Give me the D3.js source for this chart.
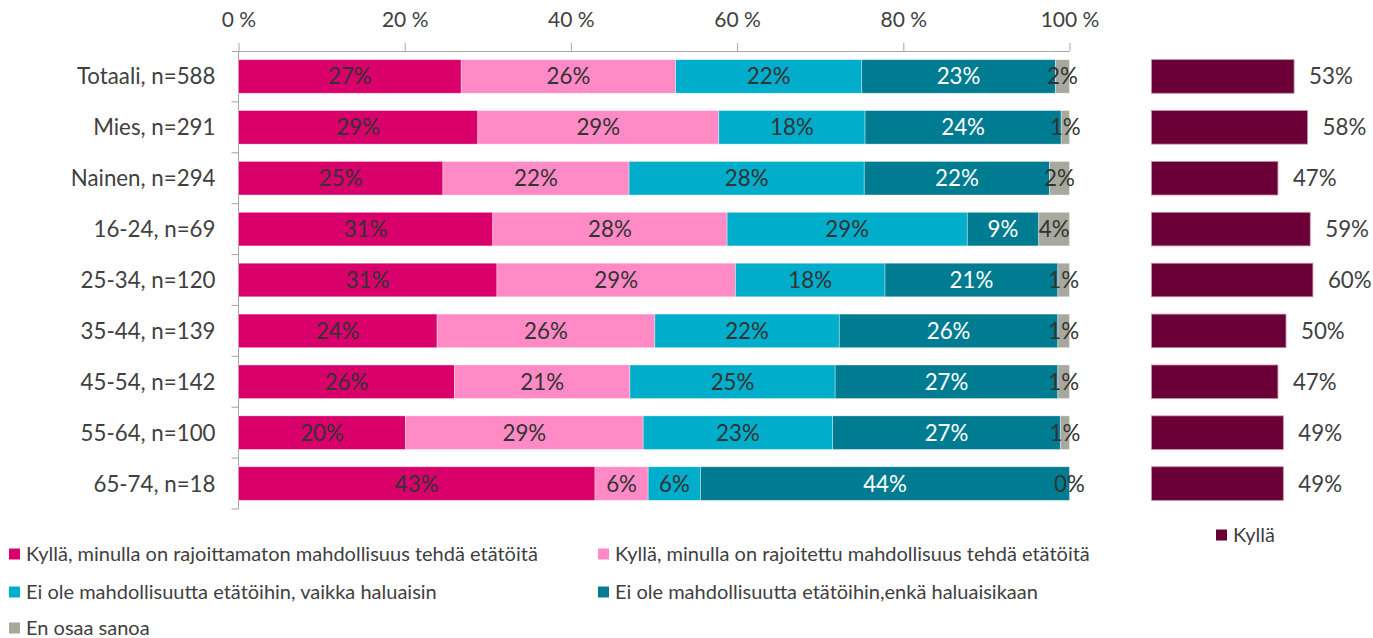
<!DOCTYPE html>
<html>
<head>
<meta charset="utf-8">
<script src="https://cdn.jsdelivr.net/npm/d3@7"></script>
<style>
  html, body { margin: 0; padding: 0; background: #fff; }
  svg { display: block; font-family: Lato, "Noto Sans", sans-serif; }
</style>
</head>
<body>
<svg id="chart" width="1373" height="638"></svg>
<script>
// Respondent groups
const groups = ["Totaali, n=588", "Mies, n=291", "Nainen, n=294", "16-24, n=69", "25-34, n=120",
                "35-44, n=139", "45-54, n=142", "55-64, n=100", "65-74, n=18"];

// Answer options (stack order)
const answers = [
  "Kyllä, minulla on rajoittamaton mahdollisuus tehdä etätöitä",
  "Kyllä, minulla on rajoitettu mahdollisuus tehdä etätöitä",
  "Ei ole mahdollisuutta etätöihin, vaikka haluaisin",
  "Ei ole mahdollisuutta etätöihin,enkä haluaisikaan",
  "En osaa sanoa"
];

// Shares (%) per answer option, one value per group
const unlimited  = [26.8, 28.8, 24.6, 30.6, 31.1, 23.9, 26.0, 20.1, 42.9];
const limited    = [25.8, 29.0, 22.4, 28.2, 28.7, 26.2, 21.1, 28.6, 6.4];
const wantsNot   = [22.4, 17.6, 28.3, 28.9, 18.0, 22.2, 24.7, 22.8, 6.3];
const noWish     = [23.3, 23.6, 22.3, 8.6, 20.8, 26.3, 26.8, 27.4, 44.4];
const dontKnow   = [1.7, 1.0, 2.4, 3.7, 1.4, 1.4, 1.4, 1.1, 0.0];

// "Kyllä" total (%) per group
const yesTotal = [53, 58, 47, 59, 60, 50, 47, 49, 49];

// Axis ticks (%)
const xTicks = [0, 20, 40, 60, 80, 100];

const series = [unlimited, limited, wantsNot, noWish, dontKnow];
const colors = ["#D9006C", "#FF8AC5", "#00ADCB", "#007C92", "#A8A99E"];
const labelColors = ["#333333", "#333333", "#333333", "#ffffff", "#333333"];
const yesColor = "#6A0035";
const textColor = "#404040";

const svg = d3.select("#chart");
const fmt = d3.format(".0%");

// Main stacked chart geometry
const x = d3.scaleLinear().domain([0, 100]).range([238.5, 1069.5]);
const y = d3.scaleBand().domain(groups).range([51, 509]).paddingInner(0.34).paddingOuter(0.17);

const rows = groups.map((g, i) => {
  const r = { group: g };
  answers.forEach((a, k) => { r[a] = series[k][i]; });
  return r;
});
const stacked = d3.stack().keys(answers)(rows);

// Top axis
const xAxis = d3.axisTop(x).tickValues(xTicks).tickFormat(d => d + " %").tickSize(8).tickSizeOuter(0);
const gx = svg.append("g").attr("transform", "translate(0,51)").call(xAxis);
gx.select(".domain").attr("stroke", "#A6A6A6").attr("d", `M232,0.5H${x(100)}`);
gx.selectAll(".tick line").attr("stroke", "#A6A6A6");
gx.selectAll(".tick text").attr("fill", textColor).attr("font-size", 21).attr("y", -24).attr("dy", 0)
  .attr("font-family", "Lato, sans-serif");

// Left axis with band-boundary ticks
const gy = svg.append("g").attr("transform", `translate(${x(0)},0)`);
gy.append("line").attr("x1", 0).attr("x2", 0).attr("y1", 51).attr("y2", 509).attr("stroke", "#A6A6A6");
const bounds = groups.map((g, i) => y.range()[0] + i * y.step()).concat([509]);
gy.selectAll("line.tk").data(bounds.slice(1)).join("line").attr("class", "tk")
  .attr("x1", -7).attr("x2", 0).attr("y1", d => d).attr("y2", d => d).attr("stroke", "#A6A6A6");
gy.selectAll("text").data(groups).join("text")
  .attr("x", -23).attr("y", d => y(d) + y.bandwidth() / 2).attr("dy", "0.36em")
  .attr("text-anchor", "end").attr("font-size", 22.3).attr("fill", textColor).text(d => d);

// Stacked segments
const layers = svg.append("g").selectAll("g").data(stacked).join("g")
  .attr("fill", (d, i) => colors[i]);
layers.selectAll("rect").data(d => d).join("rect")
  .attr("x", d => x(d[0])).attr("width", d => Math.max(0, x(d[1]) - x(d[0])))
  .attr("y", d => y(d.data.group)).attr("height", y.bandwidth())
  .attr("stroke", "#ffffff").attr("stroke-opacity", 0.45).attr("stroke-width", 0.8);

// Segment value labels
svg.append("g").selectAll("g").data(stacked).join("g")
  .attr("fill", (d, i) => labelColors[i])
  .selectAll("text").data(d => d).join("text")
  .attr("x", d => (x(d[0]) + x(d[1])) / 2)
  .attr("y", d => y(d.data.group) + y.bandwidth() / 2).attr("dy", "0.36em")
  .attr("text-anchor", "middle").attr("font-size", 22.3)
  .text(d => fmt((d[1] - d[0]) / 100));

// Right panel: "Kyllä" totals
const x2 = d3.scaleLinear().domain([0, 100]).range([1151.5, 1420.5]);
svg.append("g").selectAll("rect").data(yesTotal).join("rect")
  .attr("x", x2(0)).attr("width", d => x2(d) - x2(0))
  .attr("y", (d, i) => y(groups[i])).attr("height", y.bandwidth())
  .attr("fill", yesColor).attr("stroke", "#C98FAB").attr("stroke-width", 0.8);
svg.append("g").selectAll("text").data(yesTotal).join("text")
  .attr("x", d => x2(d) + 15)
  .attr("y", (d, i) => y(groups[i]) + y.bandwidth() / 2).attr("dy", "0.36em")
  .attr("font-size", 22.3).attr("fill", textColor).text(d => d + "%");

// Legends
const legendPos = [[9, 554], [598, 554], [9, 592], [598, 592], [9, 628]];
const lg = svg.append("g").selectAll("g").data(answers).join("g")
  .attr("transform", (d, i) => `translate(${legendPos[i][0]},${legendPos[i][1]})`);
lg.append("rect").attr("x", 0).attr("y", -5.5).attr("width", 11).attr("height", 11)
  .attr("fill", (d, i) => colors[i]);
lg.append("text").attr("x", 17).attr("dy", "0.36em").attr("font-size", 20)
  .attr("fill", textColor).text(d => d);

const yl = svg.append("g").attr("transform", "translate(1216,535)");
yl.append("rect").attr("x", 0).attr("y", -5.5).attr("width", 11).attr("height", 11).attr("fill", yesColor);
yl.append("text").attr("x", 17).attr("dy", "0.36em").attr("font-size", 20)
  .attr("fill", textColor).text("Kyllä");
</script>
</body>
</html>
